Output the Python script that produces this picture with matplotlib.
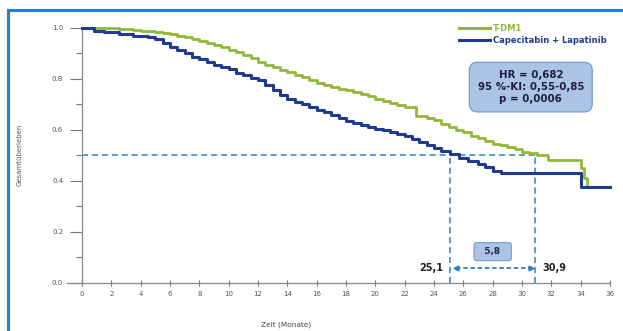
import matplotlib
matplotlib.use("Agg")
import matplotlib.pyplot as plt
from matplotlib.lines import Line2D
from matplotlib.patches import Rectangle

# Kaplan-Meier readings (months, survival probability)
tdm1_t = [0, 2.5, 3, 3.5, 4, 4.5, 5, 5.5, 6, 6.5, 7, 7.5, 8, 8.5, 9, 9.5,
          10, 10.5, 11, 11.5, 12, 12.5, 13, 13.5, 14, 14.5, 15, 15.5, 16,
          16.5, 17, 17.5, 18, 18.5, 19, 19.5, 20, 20.5, 21, 21.5, 22, 22.8,
          23.5, 24, 24.5, 25, 25.5, 26, 26.5, 27, 27.5, 28, 28.5, 29, 29.5,
          30, 30.5, 31, 31.8, 34.0, 34.2, 34.4, 36]
tdm1_s = [1.0, 0.997, 0.995, 0.992, 0.99, 0.987, 0.985, 0.98, 0.975, 0.969,
          0.963, 0.957, 0.95, 0.942, 0.933, 0.924, 0.915, 0.905, 0.895, 0.882,
          0.866, 0.856, 0.846, 0.836, 0.826, 0.816, 0.806, 0.796, 0.786,
          0.778, 0.77, 0.762, 0.755, 0.748, 0.741, 0.732, 0.723, 0.715,
          0.707, 0.698, 0.69, 0.655, 0.645, 0.637, 0.625, 0.612, 0.6, 0.59,
          0.577, 0.567, 0.556, 0.546, 0.54, 0.531, 0.524, 0.515, 0.51, 0.5,
          0.482, 0.45, 0.41, 0.375, 0.375]

cape_t = [0, 0.8, 1.5, 2.5, 3.5, 4.5, 5, 5.5, 6, 6.5, 7, 7.5, 8, 8.5, 9, 9.5,
          10, 10.5, 11, 11.5, 12, 12.5, 13, 13.5, 14, 14.5, 15, 15.5, 16,
          16.5, 17, 17.5, 18, 18.5, 19, 19.5, 20, 20.5, 21, 21.5, 22, 22.5,
          23, 23.5, 24, 24.5, 25.1, 25.7, 26.3, 27, 27.5, 28, 28.6, 34.0, 36]
cape_s = [1.0, 0.99, 0.985, 0.975, 0.97, 0.963, 0.955, 0.94, 0.925, 0.915,
          0.9, 0.888, 0.877, 0.866, 0.855, 0.848, 0.84, 0.825, 0.815, 0.805,
          0.795, 0.775, 0.755, 0.735, 0.72, 0.71, 0.7, 0.69, 0.68, 0.67,
          0.66, 0.647, 0.635, 0.627, 0.62, 0.612, 0.605, 0.598, 0.59, 0.582,
          0.575, 0.565, 0.552, 0.54, 0.53, 0.518, 0.505, 0.49, 0.478, 0.468,
          0.455, 0.44, 0.43, 0.375, 0.375]

labels = ["T-DM1", "Capecitabin + Lapatinib"]
median_cape = 25.1
median_tdm1 = 30.9
stats_text = "HR = 0,682\n95 %-KI: 0,55-0,85\np = 0,0006"

x_ticks = list(range(0, 37, 2))
y_ticks = [0.0, 0.2, 0.4, 0.6, 0.8, 1.0]

GREEN = "#92b83a"
NAVY = "#203a8f"
DASH = "#2f7fc4"
BOX_FILL = "#abc4e6"
BOX_EDGE = "#7a9bd0"


def km_plot() -> None:
    fig = plt.figure(figsize=(6.23, 3.31), dpi=100)
    ax = fig.add_axes([82 / 623, 48.3 / 331, 528 / 623, 254.7 / 331])

    # blue frame around the figure (left and top edges visible)
    fig.patches.append(Rectangle((7.5 / 623, -0.2), 1.2, 1.2 - 10 / 331,
                                 transform=fig.transFigure, fill=False,
                                 edgecolor="#1f7fd6", linewidth=2.2))

    # median guide lines
    ax.plot([0, median_tdm1], [0.5, 0.5], color=DASH, lw=1.1, ls=(0, (4, 2.5)))
    for m in (median_cape, median_tdm1):
        ax.plot([m, m], [0, 0.5], color=DASH, lw=1.1, ls=(0, (4, 2.5)))

    ax.plot(tdm1_t, tdm1_s, drawstyle="steps-post", color=GREEN, lw=2.0,
            clip_on=False, zorder=3)
    ax.plot(cape_t, cape_s, drawstyle="steps-post", color=NAVY, lw=2.2,
            clip_on=False, zorder=4)

    # difference arrow
    y_arr = 0.058
    ax.plot([median_cape + 0.4, median_tdm1 - 0.3], [y_arr, y_arr],
            color=DASH, lw=1.3, ls=(0, (2.5, 1.5)))
    ax.plot(median_cape + 0.4, y_arr, marker="<", color=DASH, ms=3.5)
    ax.plot(median_tdm1 - 0.3, y_arr, marker=">", color=DASH, ms=3.5)
    mid = (median_cape + median_tdm1) / 2
    diff = f"{median_tdm1 - median_cape:.1f}".replace(".", ",")
    ax.text(mid, 0.122, f"  {diff}  ", ha="center", va="center", fontsize=6.5,
            fontweight="bold", color="#1d2a50",
            bbox=dict(boxstyle="round,pad=0.5,rounding_size=0.3",
                      fc=BOX_FILL, ec=BOX_EDGE, lw=0.8))
    ax.text(median_cape - 0.5, y_arr, f"{median_cape}".replace(".", ","),
            ha="right", va="center", fontsize=7, fontweight="bold",
            color="#222222")
    ax.text(median_tdm1 + 0.5, y_arr, f"{median_tdm1}".replace(".", ","),
            ha="left", va="center", fontsize=7, fontweight="bold",
            color="#222222")

    # statistics box
    ax.text(30.6, 0.768, stats_text, ha="center", va="center", fontsize=7.4,
            fontweight="bold", color="#1d2040", linespacing=1.2,
            bbox=dict(boxstyle="round,pad=0.8,rounding_size=0.8",
                      fc=BOX_FILL, ec=BOX_EDGE, lw=0.9))

    handles = [Line2D([], [], color=GREEN, lw=2.2),
               Line2D([], [], color=NAVY, lw=2.2)]
    ax.legend(handles, labels, loc="upper right",
              bbox_to_anchor=(1.008, 1.045), frameon=False,
              handlelength=3.7, handletextpad=0.35, labelspacing=0.3,
              prop={"size": 6.0, "weight": "bold"},
              labelcolor=[GREEN, NAVY])

    ax.set_xlim(0, 36)
    ax.set_ylim(0, 1.0)
    ax.set_xticks(x_ticks)
    ax.set_yticks(y_ticks)
    ax.set_yticks([0.1, 0.3, 0.5, 0.7, 0.9], minor=True)
    ax.set_yticklabels([f"{v:.1f}" for v in y_ticks])
    ax.tick_params(axis="y", which="major", direction="out", length=8.5,
                   width=0.8, color="#777777", labelsize=5, labelcolor="#555555",
                   pad=5)
    ax.tick_params(axis="y", which="minor", direction="out", length=4.5,
                   width=0.8, color="#777777")
    ax.tick_params(axis="x", direction="inout", length=4, width=0.8,
                   color="#777777", labelsize=5, labelcolor="#555555", pad=4)
    for side in ("top", "right"):
        ax.spines[side].set_visible(False)
    for side in ("left", "bottom"):
        ax.spines[side].set_color("#888888")
        ax.spines[side].set_linewidth(0.9)
    ax.spines["bottom"].set_bounds(-1.0, 36)
    ax.spines["bottom"].set_clip_on(False)

    fig.text(20 / 623, 1 - 155 / 331, "Gesamtüberleben", rotation=90,
             ha="center", va="center", fontsize=5, color="#555555")
    fig.text(286 / 623, 1 - 325 / 331, "Zeit (Monate)", ha="center",
             va="center", fontsize=5.3, color="#444444")

    fig.savefig("out.png", dpi=100)


if __name__ == "__main__":
    km_plot()
